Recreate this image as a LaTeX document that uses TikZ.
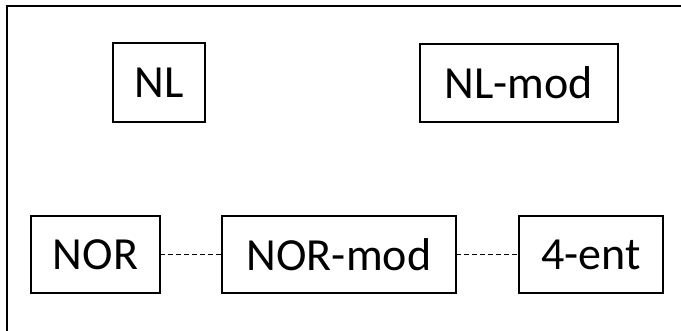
\documentclass[tikz,border=0pt]{standalone}
\usepackage{fontspec}
\setmainfont{Carlito}
\usetikzlibrary{positioning}

\begin{document}
\begin{tikzpicture}[x=1pt, y=-1pt,
    blk/.style={draw, line width=1.5pt, inner sep=0pt, outer sep=0pt, minimum height=77pt, font=\fontsize{46}{50}\selectfont},
    link/.style={line width=1.6pt, dash pattern=on 5pt off 3pt}]
			\useasboundingbox (0,0) rectangle (681,330);
			\draw[line width=2.2pt] (7,331) -- (7,6) -- (682,6);
			
			\node[blk, minimum width=92pt, minimum height=79pt] (nl) at (159,82.5) {NL};
			\node[blk, minimum width=198pt, minimum height=78pt] (nlmod) at (519,83) {NL-mod};
			\node[blk, minimum width=129pt] (nor) at (95.5,254.5) {NOR};
			\node[blk, minimum width=234pt] (normod) at (339,254.5) {NOR-mod};
			\node[blk, minimum width=144pt] (fourent) at (591,254.5) {4-ent};
			
			\draw[link] (nor) -- (normod);
			\draw[link] (normod) -- (fourent);
		\end{tikzpicture}
\end{document}
